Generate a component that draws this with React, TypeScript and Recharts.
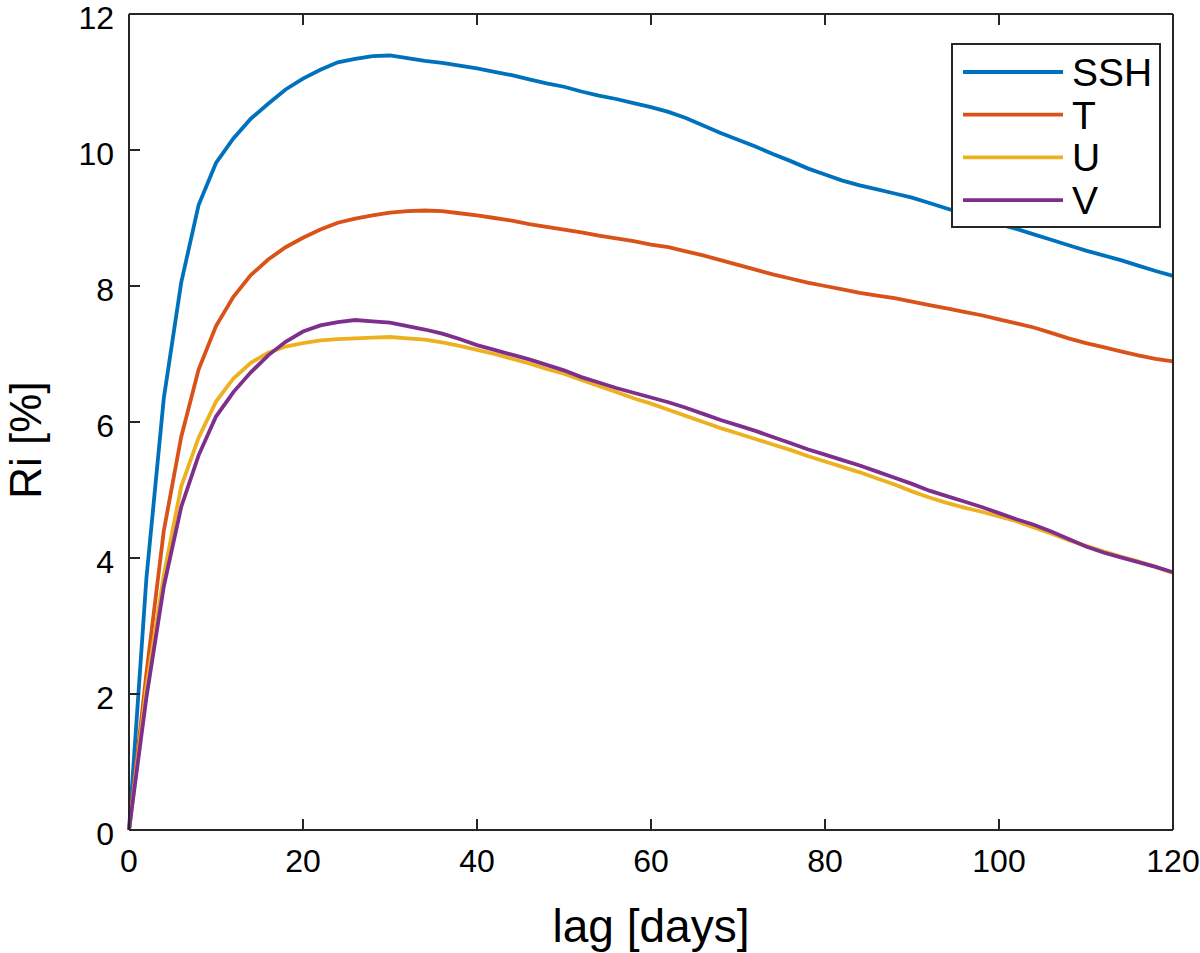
import React from 'react';
import { LineChart, Line, XAxis, YAxis } from 'recharts';

const lagDays = [
  0, 2, 4, 6, 8, 10, 12, 14, 16, 18, 20, 22, 24, 26, 28, 30, 32, 34, 36, 38, 40,
  42, 44, 46, 48, 50, 52, 54, 56, 58, 60, 62, 64, 66, 68, 70, 72, 74, 76, 78, 80,
  82, 84, 86, 88, 90, 92, 94, 96, 98, 100, 102, 104, 106, 108, 110, 112, 114, 116, 118, 120,
];

const ssh = [
  0, 3.7, 6.35, 8.05, 9.19, 9.81, 10.17, 10.46, 10.68, 10.89, 11.05, 11.18, 11.29, 11.34, 11.38, 11.39, 11.35, 11.31, 11.28, 11.24, 11.2,
  11.15, 11.1, 11.04, 10.98, 10.93, 10.86, 10.8, 10.75, 10.69, 10.63, 10.56, 10.47, 10.36, 10.25, 10.15, 10.05, 9.94, 9.84, 9.73, 9.64,
  9.55, 9.48, 9.42, 9.36, 9.3, 9.22, 9.14, 9.06, 8.98, 8.91, 8.84, 8.76, 8.68, 8.6, 8.52, 8.45, 8.38, 8.3, 8.22, 8.15,
];

const temp = [
  0, 2.3, 4.4, 5.78, 6.77, 7.41, 7.84, 8.16, 8.39, 8.57, 8.71, 8.83, 8.93, 8.99, 9.04, 9.08, 9.1, 9.11, 9.1, 9.07, 9.04,
  9.0, 8.96, 8.91, 8.87, 8.83, 8.79, 8.74, 8.7, 8.66, 8.61, 8.57, 8.51, 8.45, 8.38, 8.31, 8.24, 8.17, 8.11, 8.05, 8.0,
  7.95, 7.9, 7.86, 7.82, 7.77, 7.72, 7.67, 7.62, 7.57, 7.51, 7.45, 7.39, 7.31, 7.23, 7.16, 7.1, 7.04, 6.98, 6.93, 6.89,
];

const uVel = [
  0, 2.1, 3.75, 5.05, 5.77, 6.3, 6.64, 6.87, 7.02, 7.11, 7.16, 7.2, 7.22, 7.23, 7.24, 7.25, 7.23, 7.21, 7.17, 7.12, 7.06,
  7.0, 6.93, 6.86, 6.78, 6.71, 6.62, 6.53, 6.44, 6.35, 6.27, 6.18, 6.09, 6.0, 5.91, 5.83, 5.75, 5.67, 5.59, 5.5, 5.42,
  5.34, 5.26, 5.17, 5.08, 4.98, 4.89, 4.81, 4.74, 4.68, 4.61, 4.54, 4.45, 4.36, 4.26, 4.18, 4.1, 4.02, 3.95, 3.87, 3.78,
];

const vVel = [
  0, 1.95, 3.58, 4.75, 5.51, 6.08, 6.44, 6.73, 6.98, 7.18, 7.33, 7.42, 7.47, 7.5, 7.48, 7.46, 7.41, 7.36, 7.3, 7.22, 7.13,
  7.06, 6.99, 6.92, 6.84, 6.76, 6.66, 6.58, 6.5, 6.43, 6.36, 6.29, 6.21, 6.12, 6.03, 5.95, 5.87, 5.78, 5.69, 5.6, 5.52,
  5.44, 5.36, 5.27, 5.18, 5.09, 4.99, 4.91, 4.83, 4.75, 4.66, 4.57, 4.49, 4.39, 4.28, 4.17, 4.08, 4.01, 3.94, 3.87, 3.79,
];

const xTicks = [0, 20, 40, 60, 80, 100, 120];
const yTicks = [0, 2, 4, 6, 8, 10, 12];

const series = [
  { key: 'SSH', values: ssh, color: '#0072BD' },
  { key: 'T', values: temp, color: '#D95319' },
  { key: 'U', values: uVel, color: '#EDB120' },
  { key: 'V', values: vVel, color: '#7E2F8E' },
];

const rows = lagDays.map((lag, i) => {
  const row: Record<string, number> = { lag };
  series.forEach(s => { row[s.key] = s.values[i]; });
  return row;
});

const FONT = '"Liberation Sans", Arial, Helvetica, sans-serif';
const AXIS = '#262626';
const TICK_LEN = 11;

// matlab style: ticks point inward, labels outside
const BottomTick = (props: any) => {
  const { x, y, payload } = props;
  return (
    <g>
      <line x1={x} y1={y} x2={x} y2={y - TICK_LEN} stroke={AXIS} strokeWidth={2} />
      <text x={x} y={y + 42} textAnchor="middle" fontSize={32} fontFamily={FONT} fill="#000">
        {payload.value}
      </text>
    </g>
  );
};

const LeftTick = (props: any) => {
  const { x, y, payload } = props;
  return (
    <g>
      <line x1={x} y1={y} x2={x + TICK_LEN} y2={y} stroke={AXIS} strokeWidth={2} />
      <text x={x - 15} y={y + 15} textAnchor="end" fontSize={32} fontFamily={FONT} fill="#000">
        {payload.value}
      </text>
    </g>
  );
};

const TopTick = (props: any) => {
  const { x, y } = props;
  return <line x1={x} y1={y} x2={x} y2={y + TICK_LEN} stroke={AXIS} strokeWidth={2} />;
};

const RightTick = (props: any) => {
  const { x, y } = props;
  return <line x1={x} y1={y} x2={x - TICK_LEN} y2={y} stroke={AXIS} strokeWidth={2} />;
};

const LegendBox = () => (
  <svg width={210} height={185} style={{ display: 'block' }}>
    <rect x={1} y={1} width={208} height={183} fill="#fff" stroke={AXIS} strokeWidth={2} />
    {series.map((s, i) => {
      const cy = 29 + i * 42.7;
      return (
        <g key={s.key}>
          <line x1={12} y1={cy} x2={112} y2={cy} stroke={s.color} strokeWidth={3.8} />
          <text x={121} y={cy + 14} fontSize={39} fontFamily={FONT} fill="#000">{s.key}</text>
        </g>
      );
    })}
  </svg>
);

export default function App() {
  // fixed at the page corner so the body margin and scrollbars stay out of the way
  return (
    <div style={{ position: 'fixed', left: 0, top: 0, width: 1200, height: 953, background: '#fff' }}>
      <LineChart width={1200} height={953} data={rows} margin={{ top: 0, right: 0, bottom: 0, left: 0 }}>
        <XAxis
          dataKey="lag"
          type="number"
          domain={[0, 120]}
          ticks={xTicks}
          height={123}
          axisLine={{ stroke: AXIS, strokeWidth: 2 }}
          tickLine={false}
          tickSize={0}
          tickMargin={0}
          tick={<BottomTick />}
          label={{
            content: () => (
              <text x={651} y={942} textAnchor="middle" fontSize={46} fontFamily={FONT} fill="#000">
                lag [days]
              </text>
            ),
          }}
        />
        <XAxis
          xAxisId="top"
          orientation="top"
          dataKey="lag"
          type="number"
          domain={[0, 120]}
          ticks={xTicks}
          height={14}
          axisLine={{ stroke: AXIS, strokeWidth: 2 }}
          tickLine={false}
          tickSize={0}
          tickMargin={0}
          tick={<TopTick />}
        />
        <YAxis
          type="number"
          domain={[0, 12]}
          ticks={yTicks}
          width={129}
          axisLine={{ stroke: AXIS, strokeWidth: 2 }}
          tickLine={false}
          tickSize={0}
          tickMargin={0}
          tick={<LeftTick />}
          label={{
            content: () => (
              <text
                x={41}
                y={440}
                transform="rotate(-90, 41, 440)"
                textAnchor="middle"
                fontSize={44}
                fontFamily={FONT}
                fill="#000"
              >
                Ri [%]
              </text>
            ),
          }}
        />
        <YAxis
          yAxisId="right"
          orientation="right"
          type="number"
          domain={[0, 12]}
          ticks={yTicks}
          width={27}
          axisLine={{ stroke: AXIS, strokeWidth: 2 }}
          tickLine={false}
          tickSize={0}
          tickMargin={0}
          tick={<RightTick />}
        />
        {series.map(s => (
          <Line
            key={s.key}
            dataKey={s.key}
            type="linear"
            stroke={s.color}
            strokeWidth={3.8}
            dot={false}
            activeDot={false}
            isAnimationActive={false}
          />
        ))}
      </LineChart>
      <div style={{ position: 'absolute', left: 951, top: 43 }}>
        <LegendBox />
      </div>
    </div>
  );
}
